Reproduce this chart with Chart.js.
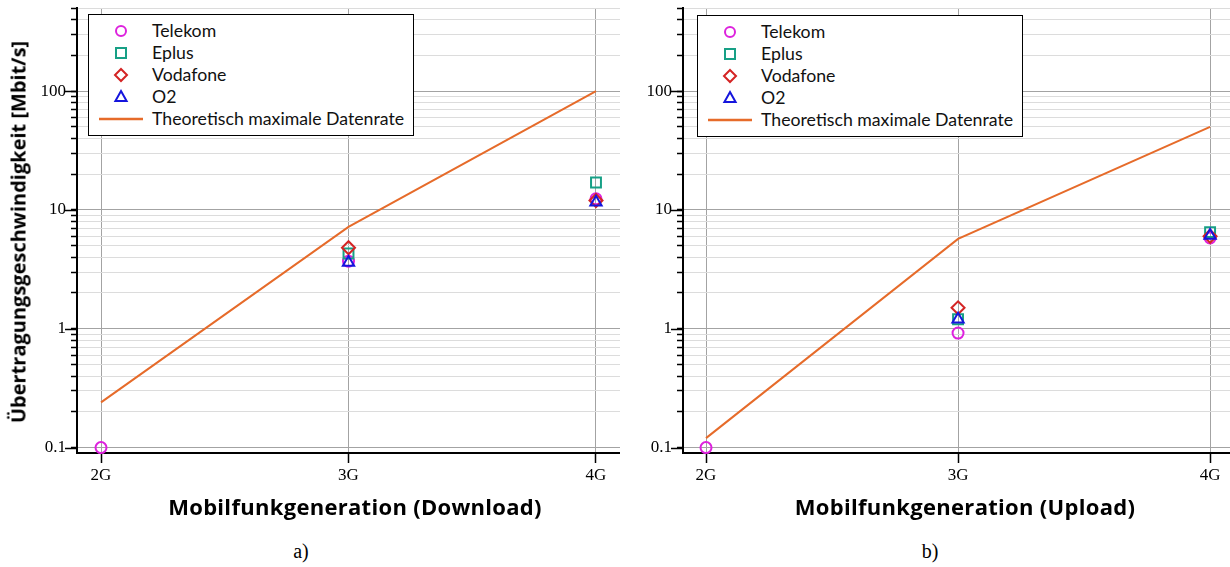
<!DOCTYPE html>
<html><head><meta charset="utf-8">
<script src="https://cdn.jsdelivr.net/npm/chart.js@4.4.1/dist/chart.umd.min.js"></script>
<style>
body{margin:0;width:1230px;height:567px;background:#fff;position:relative;overflow:hidden;font-family:Lato,sans-serif}
canvas{position:absolute;top:0}
.legend{position:absolute;background:#fff;border:1px solid #000;box-sizing:border-box;width:326px;height:122px;padding-top:5px;z-index:2}
.row{height:22px;position:relative;font-size:17.7px;line-height:22px}
.row svg{position:absolute;left:0;top:0}
.row span{position:absolute;left:63px;top:0;color:#111;white-space:nowrap}
.tt{position:absolute;font-family:'Open Sans',sans-serif;font-weight:bold;font-size:20px;white-space:nowrap;transform:translate(-50%,-50%);color:#000}
.xt{font-size:22px;letter-spacing:0.3px}
.cap{position:absolute;font-family:'Liberation Serif',serif;font-size:20px;transform:translate(-50%,-50%)}
</style></head>
<body>
<canvas id="c1" width="620" height="522" style="left:0"></canvas>
<canvas id="c2" width="610" height="522" style="left:620px"></canvas>
<div class="legend" id="lg1" style="left:88px;top:14px"></div>
<div class="legend" id="lg2" style="left:697px;top:15px"></div>
<div class="tt" style="left:18px;top:232px;transform:translate(-50%,-50%) rotate(-90deg)">Übertragungsgeschwindigkeit [Mbit/s]</div>
<div class="tt xt" style="left:355px;top:506px">Mobilfunkgeneration (Download)</div>
<div class="tt xt" style="left:965px;top:506px">Mobilfunkgeneration (Upload)</div>
<div class="cap" style="left:301px;top:551px">a)</div>
<div class="cap" style="left:930px;top:551px">b)</div>
<script>
const categories = ['2G', '3G', '4G'];
const yDecades = [0.1, 1, 10, 100];
const yTickLabels = ['0.1', '1', '10', '100'];
const minorSteps = [1, 2, 3, 4, 5, 6, 7, 8, 9];
const seriesNames = ['Telekom', 'Eplus', 'Vodafone', 'O2'];
const lineName = 'Theoretisch maximale Datenrate';

// Download (a)
const dlTelekom  = [0.1, 3.7, 12.4];
const dlEplus    = [null, 4.3, 17];
const dlVodafone = [null, 4.8, 12];
const dlO2       = [null, 3.6, 11.6];
const dlMax      = [0.24, 7.2, 100];

// Upload (b)
const ulTelekom  = [0.1, 0.92, 5.8];
const ulEplus    = [null, 1.2, 6.5];
const ulVodafone = [null, 1.5, 6.0];
const ulO2       = [null, 1.2, 6.1];
const ulMax      = [0.12, 5.7, 50];

const styles = [
  {color:'#dd22dd', shape:'circle', r:5.5},
  {color:'#17a086', shape:'rect', r:7},
  {color:'#d42424', shape:'rectRot', r:6.5},
  {color:'#1515dd', shape:'triangle', r:6.5}
];
const lineColor = '#e66b2a';

function toXY(arr){ return arr.map((v,i)=>v==null?null:{x:i,y:v}).filter(p=>p); }

const majorTicks = {
  id:'majorTicks',
  afterDraw(chart){
    const y = chart.scales.y, ctx = chart.ctx;
    ctx.save(); ctx.strokeStyle='#000'; ctx.lineWidth=1.5;
    yDecades.forEach(d=>{
      const py = Math.round(y.getPixelForValue(d))+0.5;
      ctx.beginPath(); ctx.moveTo(y.right-12, py); ctx.lineTo(y.right, py); ctx.stroke();
    });
    ctx.restore();
  }
};

function noPad(s){ s.paddingLeft=0; s.paddingRight=0; s.paddingTop=0; s.paddingBottom=0; }

function makeChart(id, series, maxLine, xmin, xmax, yWidth){
  const datasets = series.map((s,i)=>({
    label: seriesNames[i], data: toXY(s),
    pointStyle: styles[i].shape, pointRadius: styles[i].r, pointBorderWidth: 2,
    pointBorderColor: styles[i].color, pointBackgroundColor: 'rgba(0,0,0,0)',
    order: 4-i, clip: false
  }));
  datasets.push({type:'line', label: lineName, data: toXY(maxLine), borderColor: lineColor,
    borderWidth: 2, pointRadius: 0, tension: 0, fill:false, order: 10});
  const H = 522;
  return new Chart(document.getElementById(id), {
    type:'scatter',
    data:{datasets},
    options:{
      responsive:false, animation:false, devicePixelRatio:1,
      layout:{autoPadding:false, padding:{top:8,right:0,left:0,bottom:0}},
      plugins:{legend:{display:false}, tooltip:{enabled:false}},
      scales:{
        x:{type:'linear', min:xmin, max:xmax,
          afterBuildTicks: s=>{ s.ticks = categories.map((c,i)=>({value:i})); },
          ticks:{callback:(v)=>categories[v], font:{family:'Liberation Serif', size:17}, color:'#000', padding:2, maxRotation:0, autoSkip:false},
          grid:{color:'#a3a3a3', lineWidth:1, tickLength:10, tickColor:'#000', tickWidth:1.5},
          border:{color:'#000', width:2},
          afterFit: s=>{ s.height = H-453; noPad(s); }
        },
        y:{type:'logarithmic', min:0.09, max:500,
          afterBuildTicks: s=>{
            const t=[];
            yDecades.forEach(d=>minorSteps.forEach(m=>{ const v=d*m; if(v<=500) t.push({value:v, major:m===1}); }));
            s.ticks=t;
          },
          ticks:{autoSkip:false, font:{family:'Liberation Serif', size:17}, color:'#000', padding:5,
            callback:(v,i,t)=>{ const k=yDecades.findIndex(d=>Math.abs(d-v)<1e-9); return k>=0?yTickLabels[k]:''; }},
          grid:{color:c=>c.tick && c.tick.major ? '#a3a3a3' : '#dcdcdc', lineWidth:1, tickLength:6, tickColor:'#000', tickWidth:1.5},
          border:{color:'#000', width:2},
          afterFit: s=>{ s.width = yWidth; noPad(s); }
        }
      }
    },
    plugins:[majorTicks]
  });
}

makeChart('c1', [dlTelekom, dlEplus, dlVodafone, dlO2], dlMax, -0.097, 2.097, 77);
makeChart('c2', [ulTelekom, ulEplus, ulVodafone, ulO2], ulMax, -0.0913, 2.079, 63);

function markerSvg(i){
  const st = styles[i], c = st.color;
  let shape='';
  if(st.shape==='circle') shape=`<circle cx="32" cy="11" r="5" fill="none" stroke="${c}" stroke-width="2"/>`;
  if(st.shape==='rect') shape=`<rect x="27" y="6" width="10" height="10" fill="none" stroke="${c}" stroke-width="2"/>`;
  if(st.shape==='rectRot') shape=`<polygon points="32,5 38,11 32,17 26,11" fill="none" stroke="${c}" stroke-width="2"/>`;
  if(st.shape==='triangle') shape=`<polygon points="32,5 37.6,15 26.4,15" fill="none" stroke="${c}" stroke-width="2"/>`;
  return `<svg width="60" height="22">${shape}</svg>`;
}
function buildLegend(id){
  const el = document.getElementById(id);
  let h='';
  seriesNames.forEach((n,i)=>{ h+=`<div class="row">${markerSvg(i)}<span>${n}</span></div>`; });
  h+=`<div class="row"><svg width="60" height="22"><line x1="10" y1="11" x2="54" y2="11" stroke="${lineColor}" stroke-width="2.5"/></svg><span>${lineName}</span></div>`;
  el.innerHTML=h;
}
buildLegend('lg1'); buildLegend('lg2');
</script>
</body></html>
